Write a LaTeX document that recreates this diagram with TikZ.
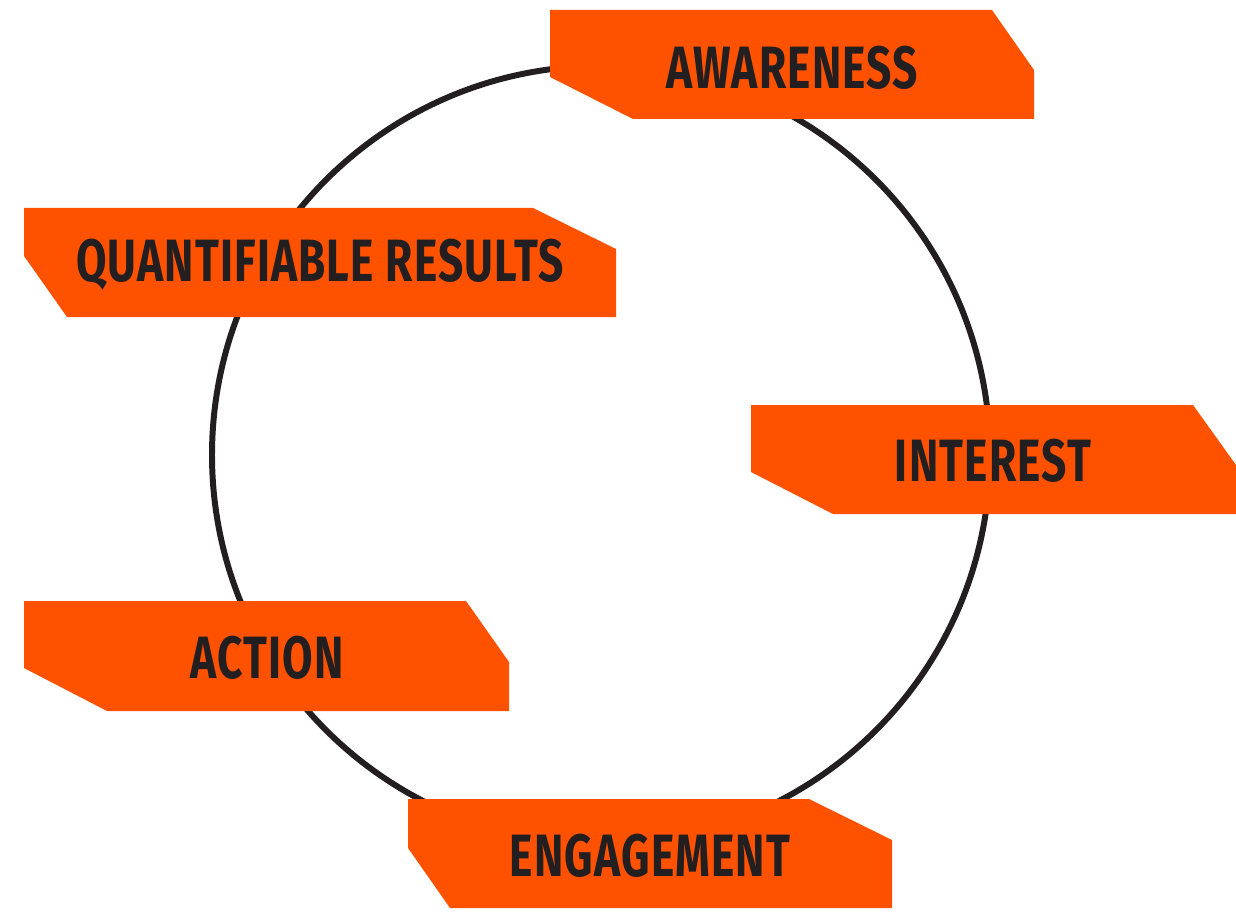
\documentclass[tikz,border=0pt]{standalone}
\usepackage{fontspec}
\newfontfamily\bannerfont{Fira Sans}[FakeStretch=0.74,LetterSpace=2]
\definecolor{funnelorange}{HTML}{FF5200}
\definecolor{inkgray}{HTML}{231F20}
\begin{document}
\begin{tikzpicture}[x=0.02cm,y=-0.02cm,
    banner/.style={fill=funnelorange},
    label/.style={text=inkgray,font=\bannerfont\bfseries\fontsize{34}{36}\selectfont,inner sep=0pt}]
    \useasboundingbox (0,0) rectangle (1236,915);
    \draw[inkgray,line width=3.4pt] (601,455) circle[radius=389];
    % banners
    \fill[banner] (550,10)--(992,10)--(1034,70)--(1034,119)--(633,119)--(550,77)--cycle;
    \fill[banner] (24,208)--(533,208)--(616,249)--(616,317)--(67,317)--(24,256)--cycle;
    \fill[banner] (751,405)--(1193,405)--(1236,465)--(1236,514)--(833,514)--(751,472)--cycle;
    \fill[banner] (24,601)--(466,601)--(509,662)--(509,711)--(107,711)--(24,668)--cycle;
    \fill[banner] (408,799)--(809,799)--(892,840)--(892,908)--(450,908)--(408,848)--cycle;
    % texts
    \node[label] (awareness) at (792,68) {AWARENESS};
    \node[label] (results) at (320,265) {QUANTIFIABLE RESULTS};
    \node[label] (interest) at (993,461) {INTEREST};
    \node[label] (action) at (267,658) {ACTION};
    \node[label] (engagement) at (650,856) {ENGAGEMENT};
\end{tikzpicture}
\end{document}
